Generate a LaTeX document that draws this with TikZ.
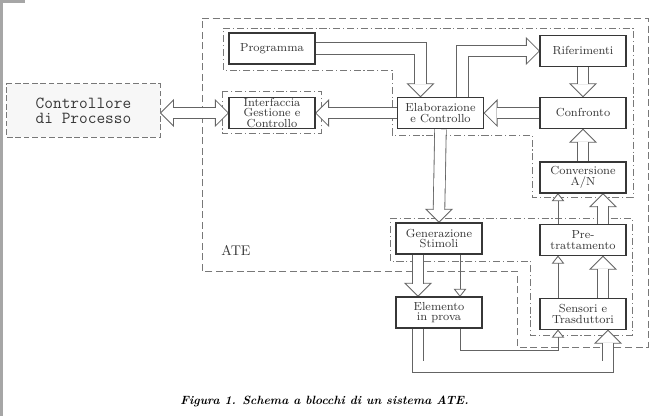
\documentclass[tikz,border=0pt]{standalone}
\usetikzlibrary{calc}
\pgfdeclarelayer{background}
\pgfsetlayers{background,main}
\definecolor{InkGray}{RGB}{55,55,55}
\definecolor{WireGray}{RGB}{100,100,100}
\definecolor{FrameGray}{RGB}{120,120,120}

\begin{document}
\begin{tikzpicture}[x=0.025cm, y=0.025cm,
    block/.style={draw=InkGray, line width=0.9pt, fill=white, text=InkGray,
      minimum width=2.15cm, minimum height=0.78cm, inner sep=0pt, align=center,
      font=\fontsize{8.3}{7.4}\selectfont},
    ctrlbox/.style={draw=FrameGray, line width=0.6pt, dash pattern=on 4pt off 2pt,
      fill=black!3, text=InkGray, minimum width=3.83cm, minimum height=1.33cm,
      inner sep=0pt, align=center, font=\ttfamily\fontsize{12}{10.5}\selectfont},
    wire/.style={draw=WireGray, line width=0.6pt},
    channel/.style={wire, double=white, double distance=7.6pt},
    atebound/.style={draw=FrameGray, line width=0.6pt, dash pattern=on 5pt off 2.5pt},
    groupbound/.style={draw=FrameGray, line width=0.6pt, dash pattern=on 5pt off 2pt on 0.8pt off 2pt},
    fattip/.pic={\filldraw[wire, fill=white] (0,0) -- (-13,-13) -- (13,-13) -- cycle;},
    thintip/.pic={\filldraw[wire, fill=white] (0,0) -- (-5.5,-7) -- (5.5,-7) -- cycle;}]
  \useasboundingbox (0,0) rectangle (657,-416);

  % edge of the scanned page
  \fill[black!35] (0,0) rectangle (3,-416);
  \fill[black!35] (0,0) rectangle (25,-3);

  % Blocks
  \node[block] (prog) at (272,-48.5) {Programma};
  \node[block] (intf) at (272,-113) {Interfaccia\\Gestione e\\Controllo};
  \node[block] (elab) at (440.5,-113) {Elaborazione\\e Controllo};
  \node[block] (rif) at (583,-51) {Riferimenti};
  \node[block] (conf) at (583,-113) {Confronto};
  \node[block] (conv) at (583,-177.5) {Conversione\\A/N};
  \node[block] (pre) at (583,-240) {Pre-\\trattamento};
  \node[block] (sens) at (583,-314) {Sensori e\\Trasduttori};
  \node[block] (gen) at (439,-238.5) {Generazione\\Stimoli};
  \node[block] (elem) at (439,-312.5) {Elemento\\in prova};
  \node[ctrlbox] (ctrl) at (83.5,-110.5) {Controllore\\di Processo};
  \node[text=InkGray] (ate) at (236,-250) {ATE};
  \node[font=\fontsize{8.5}{10}\selectfont\bfseries\itshape] (caption) at (324.5,-401)
    {Figura 1. Schema a blocchi di un sistema ATE.};

  \begin{pgfonlayer}{background}
    % ATE and the groups of blocks
    \draw[atebound] (202,-18) -- (648,-18) -- (648,-347) -- (517,-347) -- (517,-271) -- (202,-271) -- cycle;
    \draw[groupbound] (223,-28) -- (633,-28) -- (633,-197) -- (532,-197) -- (532,-135) -- (392,-135) -- (392,-70) -- (223,-70) -- cycle;
    \draw[groupbound] (222,-91) rectangle (321,-133);
    \draw[groupbound] (390,-218) -- (632,-218) -- (632,-335) -- (530,-335) -- (530,-261) -- (390,-261) -- cycle;

    % Controllore <-> Interfaccia
    \path (ctrl.east |- intf.west) pic[rotate=90]{fattip};
    \path (intf.west) pic[rotate=-90]{fattip};
    \draw[channel] ($(ctrl.east |- intf.west)+(12.4,0)$) -- ($(intf.west)+(-12.4,0)$);

    % Elaborazione -> Interfaccia, Confronto -> Elaborazione
    \path (intf.east) pic[rotate=90]{fattip};
    \draw[channel] (elab.west) -- ($(intf.east)+(12.4,0)$);
    \path (elab.east) pic[rotate=90]{fattip};
    \draw[channel] (conf.west) -- ($(elab.east)+(12.4,0)$);

    % Programma -> Elaborazione -> Riferimenti
    \path ($(elab.north)+(-20,0)$) pic[rotate=180]{fattip};
    \draw[channel] (prog.east) -| ($(elab.north)+(-20,12.4)$);
    \path (rif.west) pic[rotate=-90]{fattip};
    \draw[channel] ($(elab.north)+(22,0)$) |- ($(rif.west)+(-12.4,0)$);

    % Riferimenti -> Confronto <- Conversione
    \path (conf.north) pic[rotate=180]{fattip};
    \draw[channel] (rif.south) -- ($(conf.north)+(0,12.4)$);
    \path (conf.south) pic{fattip};
    \draw[channel] (conv.north) -- ($(conf.south)+(0,-12.4)$);

    % Elaborazione -> Generazione -> Elemento
    \path (gen.north) pic[rotate=180]{fattip};
    \draw[channel] (elab.south) -- ($(gen.north)+(0,12.4)$);
    \path ($(elem.north)+(-21,0)$) pic[rotate=180]{fattip};
    \draw[channel] ($(gen.south)+(-21,0)$) -- ($(elem.north)+(-21,12.4)$);
    \draw[wire] ($(gen.south)+(21,0)$) -- ($(elem.north)+(21,7)$);
    \path ($(elem.north)+(21,0)$) pic[rotate=180]{thintip};

    % Sensori -> Pretrattamento -> Conversione
    \path ($(conv.south)+(20,0)$) pic{fattip};
    \draw[channel] ($(pre.north)+(20,0)$) -- ($(conv.south)+(20,-12.4)$);
    \draw[wire] ($(pre.north)+(-25,0)$) -- ($(conv.south)+(-25,-7)$);
    \path ($(conv.south)+(-25,0)$) pic{thintip};
    \path ($(pre.south)+(20,0)$) pic{fattip};
    \draw[channel] ($(sens.north)+(20,0)$) -- ($(pre.south)+(20,-12.4)$);
    \draw[wire] ($(sens.north)+(-25,0)$) -- ($(pre.south)+(-25,-7)$);
    \path ($(pre.south)+(-25,0)$) pic{thintip};

    % Elemento -> Sensori
    \path ($(sens.south)+(25,0)$) pic{fattip};
    \draw[channel] ($(elem.south)+(-21,0)$) -- ++(0,-38) -| ($(sens.south)+(25,-12.4)$);
    \draw[wire] ($(elem.south)+(21,0)$) -- ++(0,-22) -| ($(sens.south)+(-25,-7)$);
    \path ($(sens.south)+(-25,0)$) pic{thintip};
  \end{pgfonlayer}
\end{tikzpicture}
\end{document}
